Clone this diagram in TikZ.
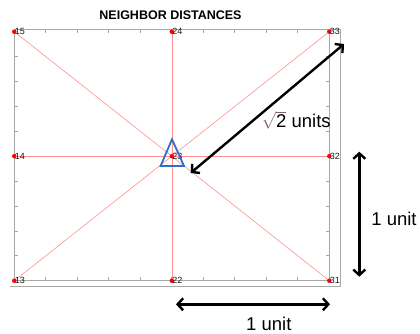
\documentclass[tikz,border=0pt]{standalone}
\usepackage{fontspec}
\setmainfont{Liberation Sans}
\usetikzlibrary{arrows.meta}
\definecolor{framegray}{HTML}{A8A8A8}
\definecolor{linkred}{HTML}{FF9090}
\definecolor{tribl}{HTML}{2F6FC8}
\definecolor{sqrtc}{HTML}{806060}
\tikzset{
  frame/.style={draw=framegray, line width=0.8pt},
  tick/.style={draw=framegray, line width=0.7pt},
  pt/.style={circle, fill=red, inner sep=0pt, minimum size=4.2pt},
  ptlab/.style={anchor=west, inner sep=0pt, font=\fontsize{9}{9}\selectfont, text=black!90},
  link/.style={draw=linkred, line width=0.6pt},
  dim/.style={draw=black, line width=2.4pt, {Straight Barb[length=5.5pt,width=12pt]}-{Straight Barb[length=5.5pt,width=12pt]}},
  biglab/.style={font=\fontsize{18.5}{18.5}\selectfont, inner sep=0pt},
}
\begin{document}
\begin{tikzpicture}[x=1pt,y=-1pt]
\useasboundingbox (0,0) rectangle (420,334);
% frame
\draw[frame] (14.3,29.5) -- (340.7,29.5);
\draw[frame] (14.3,29.5) -- (14.3,280.7) -- (329.3,280.7) -- (329.3,29.5);
\draw[frame] (10,286) -- (340.7,286) -- (340.7,29.5);
% ticks
\foreach \k in {1,...,9} {
  \pgfmathsetmacro{\xx}{14.3+31.5*\k}
  \pgfmathsetmacro{\yy}{31.7+24.9*\k}
  \draw[tick] (\xx,280.7) -- (\xx,277.2);
  \draw[tick] (\xx,29.5) -- (\xx,33.2);
  \draw[tick] (14.3,\yy) -- (17.8,\yy);
  \draw[tick] (329.3,\yy) -- (325.8,\yy);
}
% points
\node[pt] (p15) at (14.3,31.7) {};
\node[pt] (p24) at (171.8,31.7) {};
\node[pt] (p33) at (329.3,31.7) {};
\node[pt] (p14) at (14.3,156.2) {};
\node[pt] (p23) at (171.8,156.2) {};
\node[pt] (p32) at (329.3,156.2) {};
\node[pt] (p13) at (14.3,280.7) {};
\node[pt] (p22) at (171.8,280.7) {};
\node[pt] (p31) at (329.3,280.7) {};
% links
\foreach \n in {p15,p24,p33,p14,p32,p13,p22,p31} {
  \draw[link] (p23.center) -- (\n.center);
}
\foreach \n in {p15,p24,p33,p14,p23,p32,p13,p22,p31} {
  \node[pt] at (\n.center) {};
}
% labels
\foreach \n/\t in {p15/15,p24/24,p33/33,p14/14,p23/23,p32/32,p13/13,p22/22,p31/31} {
  \node[ptlab] (l\n) at ([xshift=0.3pt]\n.center) {\t};
}
% triangle
\coordinate (ta) at (172,139.3);
\coordinate (tb) at (160.6,166);
\coordinate (tc) at (184,166);
\draw[draw=tribl, line width=1.8pt, line join=miter] (ta) -- (tb) -- (tc) -- cycle;
% title
\node[font=\fontsize{12.5}{12.5}\selectfont\bfseries] (title) at (170.5,15) {NEIGHBOR DISTANCES};
% dimension arrows
\coordinate (d1a) at (190.7,173);
\coordinate (d1b) at (344,44);
\draw[dim] (d1a) -- (d1b);
\node[biglab, anchor=base] (lsq) at (296.2,128) {\textcolor{sqrtc}{$\sqrt{\textcolor{black}{\mbox{2}}}$} units};
\coordinate (d2a) at (359.3,151.7);
\coordinate (d2b) at (359.3,276.7);
\draw[dim] (d2a) -- (d2b);
\node[biglab] (lv) at (394,219) {1 unit};
\coordinate (d3a) at (176,304.3);
\coordinate (d3b) at (330,304.3);
\draw[dim] (d3a) -- (d3b);
\node[biglab] (lh) at (268.8,324) {1 unit};
\end{tikzpicture}
\end{document}
